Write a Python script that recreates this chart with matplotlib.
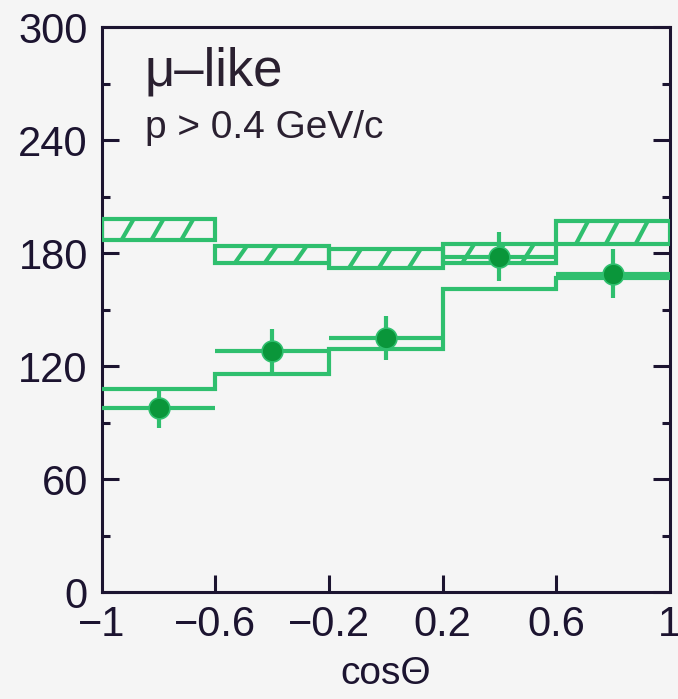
import numpy as np
import matplotlib
matplotlib.use("Agg")
import matplotlib.pyplot as plt
from matplotlib.ticker import MultipleLocator

plt.rcParams['font.family'] = ['Liberation Sans', 'DejaVu Sans']

# ---- data ----
bin_edges = [-1.0, -0.6, -0.2, 0.2, 0.6, 1.0]
noosc_top = [198, 184, 182, 185, 197]
noosc_bot = [187, 175, 172, 175, 185]
osc_mc = [108, 116, 129, 161, 167]
data_x = [-0.8, -0.4, 0.0, 0.4, 0.8]
data_y = [98, 128, 135, 178, 169]
data_err = [11, 11.5, 11.5, 13, 13]
xticks = [-1, -0.6, -0.2, 0.2, 0.6, 1]
xtick_labels = ['−1', '−0.6', '−0.2', '0.2', '0.6', '1']
yticks = [0, 60, 120, 180, 240, 300]

line_green = '#2fbf6e'
dark_green = '#0a963a'
bg = '#f5f5f5'

fig = plt.figure(figsize=(6.78, 6.99), dpi=100, facecolor=bg)
ax = fig.add_axes([0.150, 0.153, 0.838, 0.808], facecolor=bg)

edges = np.array(bin_edges)
lo = edges[:-1]
hi = edges[1:]
widths = hi - lo
centers = (lo + hi) / 2

# hatched band (no-oscillation expectation)
ax.bar(centers, np.array(noosc_top) - np.array(noosc_bot), width=widths,
       bottom=noosc_bot, fill=False, edgecolor=line_green, linewidth=3.0, zorder=3)
spacing = 0.105
slant = 0.042
for l, h, b, t in zip(lo, hi, noosc_bot, noosc_top):
    xs = l + 0.07
    while xs + slant < h - 0.02:
        ax.plot([xs, xs + slant], [b, t], color=line_green, lw=3.0,
                solid_capstyle='butt', zorder=3)
        xs += spacing

# oscillated MC histogram
ax.stairs(osc_mc, edges, baseline=None, color=line_green, linewidth=3.0, zorder=3)

# data points
ax.errorbar(data_x, data_y, yerr=data_err, xerr=0.2, fmt='o', color=line_green,
            ecolor=line_green, elinewidth=3.0, capsize=0, markersize=15,
            markerfacecolor=dark_green, markeredgecolor=line_green,
            markeredgewidth=1.2, zorder=4)

ax.set_xlim(-1, 1)
ax.set_ylim(0, 300)
ax.set_xticks(xticks)
ax.set_xticklabels(xtick_labels)
ax.set_yticks(yticks)
ax.yaxis.set_minor_locator(MultipleLocator(30))

spine_col = '#1c1430'
for s in ax.spines.values():
    s.set_linewidth(2.2)
    s.set_color(spine_col)

ax.tick_params(axis='both', which='major', direction='in', length=12, width=2.2,
               color=spine_col, labelsize=30, labelcolor='#1c1430')
ax.tick_params(axis='y', which='both', left=True, right=True)
ax.tick_params(axis='y', which='minor', direction='in', length=6, width=2.2,
               color=spine_col)
ax.tick_params(axis='y', which='major', pad=10)
ax.tick_params(axis='x', which='major', pad=9)
# hide tick marks at the x-axis ends
for t in ax.xaxis.get_major_ticks():
    if abs(abs(t.get_loc()) - 1) < 1e-9:
        t.tick1line.set_visible(False)

ax.set_xlabel('cosΘ', fontsize=28, color='#1c1430', labelpad=8)

ax.text(0.076, 0.897, 'μ–like', transform=ax.transAxes, fontsize=38,
        color='#2a2030', ha='left', va='baseline')
ax.text(0.077, 0.804, 'p > 0.4 GeV/c', transform=ax.transAxes, fontsize=28,
        color='#2a2030', ha='left', va='baseline')

fig.savefig('out.png', dpi=100, facecolor=bg)
